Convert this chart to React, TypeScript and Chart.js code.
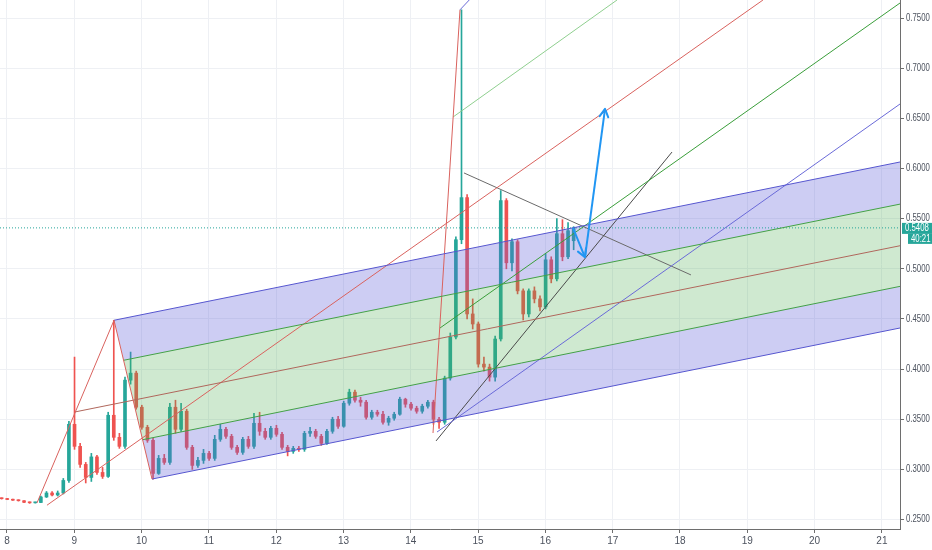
import React, { useEffect, useRef } from 'react';
import { Chart, registerables } from 'chart.js';

Chart.register(...registerables);

// visible window: days of the month on x, price on y
const dayMin = 7.896;
const dayMax = 21.269;
const priceMin = 0.2406;
const priceMax = 0.768;

// 2h candles
const firstCandleDay = 7.92;
const candleStepDays = 1 / 12;

const opens = [
  0.2712, 0.2708, 0.27, 0.2693, 0.2688, 0.2672, 0.2667, 0.267, 0.2725, 0.2765,
  0.2745, 0.2765, 0.289, 0.345, 0.323, 0.305, 0.292, 0.3125, 0.297, 0.293,
  0.354, 0.332, 0.323, 0.389, 0.396, 0.362, 0.342, 0.329, 0.296, 0.311,
  0.307, 0.362, 0.34, 0.358, 0.322, 0.304, 0.309, 0.316, 0.311, 0.33,
  0.34, 0.333, 0.322, 0.317, 0.33, 0.323, 0.346, 0.338, 0.332, 0.341,
  0.335, 0.322, 0.318, 0.321, 0.32, 0.336, 0.338, 0.333, 0.326, 0.338,
  0.35, 0.343, 0.366, 0.377, 0.369, 0.367, 0.352, 0.357, 0.355, 0.347,
  0.351, 0.355, 0.37, 0.365, 0.361, 0.358, 0.363, 0.367, 0.35, 0.347,
  0.391, 0.432, 0.529, 0.571, 0.455, 0.445, 0.405, 0.402, 0.392, 0.43,
  0.568, 0.506, 0.527, 0.478, 0.455, 0.478, 0.47, 0.462, 0.509, 0.49,
  0.535, 0.512, 0.528,
];
const highs = [
  0.2716, 0.2712, 0.2704, 0.2697, 0.269, 0.2676, 0.2674, 0.2735, 0.278, 0.278,
  0.2785, 0.291, 0.348, 0.412, 0.326, 0.307, 0.316, 0.314, 0.302, 0.357,
  0.4487, 0.336, 0.392, 0.417, 0.398, 0.364, 0.344, 0.331, 0.314, 0.315,
  0.366, 0.369, 0.366, 0.36, 0.324, 0.312, 0.32, 0.318, 0.334, 0.345,
  0.342, 0.335, 0.324, 0.332, 0.333, 0.356, 0.357, 0.341, 0.343, 0.344,
  0.337, 0.324, 0.323, 0.323, 0.338, 0.342, 0.34, 0.335, 0.34, 0.352,
  0.353, 0.368, 0.38, 0.379, 0.372, 0.369, 0.359, 0.359, 0.358, 0.353,
  0.357, 0.372, 0.371, 0.367, 0.363, 0.365, 0.369, 0.369, 0.352, 0.393,
  0.436, 0.532, 0.7582, 0.574, 0.47, 0.447, 0.412, 0.405, 0.433, 0.578,
  0.57, 0.53, 0.529, 0.48, 0.48, 0.482, 0.473, 0.515, 0.512, 0.55,
  0.549, 0.546, 0.542,
];
const lows = [
  0.2704, 0.2698, 0.269, 0.2684, 0.2668, 0.2662, 0.2664, 0.2668, 0.272, 0.2735,
  0.2735, 0.2755, 0.287, 0.32, 0.302, 0.2865, 0.288, 0.295, 0.291, 0.292,
  0.329, 0.321, 0.321, 0.385, 0.36, 0.34, 0.327, 0.2904, 0.295, 0.305,
  0.305, 0.336, 0.338, 0.32, 0.3, 0.302, 0.306, 0.309, 0.309, 0.328,
  0.331, 0.32, 0.315, 0.315, 0.321, 0.321, 0.334, 0.33, 0.33, 0.333,
  0.32, 0.3135, 0.316, 0.318, 0.318, 0.333, 0.331, 0.324, 0.325, 0.336,
  0.341, 0.342, 0.364, 0.367, 0.363, 0.35, 0.35, 0.353, 0.345, 0.344,
  0.349, 0.354, 0.362, 0.359, 0.356, 0.356, 0.361, 0.345, 0.341, 0.345,
  0.389, 0.43, 0.525, 0.45, 0.44, 0.402, 0.398, 0.388, 0.388, 0.428,
  0.5, 0.498, 0.475, 0.449, 0.452, 0.466, 0.458, 0.46, 0.486, 0.488,
  0.508, 0.51, 0.519,
];
const closes = [
  0.2708, 0.27, 0.2693, 0.2688, 0.2672, 0.2667, 0.267, 0.2725, 0.2765, 0.2745,
  0.2765, 0.289, 0.345, 0.323, 0.305, 0.292, 0.3125, 0.297, 0.293, 0.354,
  0.332, 0.323, 0.389, 0.396, 0.362, 0.342, 0.329, 0.296, 0.311, 0.307,
  0.362, 0.34, 0.358, 0.322, 0.304, 0.309, 0.316, 0.311, 0.33, 0.34,
  0.333, 0.322, 0.317, 0.33, 0.323, 0.346, 0.338, 0.332, 0.341, 0.335,
  0.322, 0.318, 0.321, 0.32, 0.336, 0.338, 0.333, 0.326, 0.338, 0.35,
  0.343, 0.366, 0.377, 0.369, 0.367, 0.352, 0.357, 0.355, 0.347, 0.351,
  0.355, 0.37, 0.365, 0.361, 0.358, 0.363, 0.367, 0.35, 0.347, 0.391,
  0.432, 0.529, 0.571, 0.455, 0.445, 0.405, 0.402, 0.392, 0.43, 0.568,
  0.506, 0.527, 0.478, 0.455, 0.478, 0.47, 0.462, 0.509, 0.49, 0.535,
  0.512, 0.538, 0.5408,
];

const lastPrice = 0.5408;
const lastPriceText = '0.5408';
const countdownText = '40:21';

// drawings, as [day, price] points
const forkHandle = [[8.446, 0.2666], [9.59, 0.4487]];
const forkBase = [[9.59, 0.4487], [10.155, 0.2904]];
const forkMedian = [[9.01, 0.3573], [21.269, 0.523]];
const forkUpper = [[9.59, 0.4487], [21.269, 0.6065]];
const forkUpperHalf = [[9.733, 0.4088], [21.269, 0.5645]];
const forkLowerHalf = [[10.015, 0.3296], [21.269, 0.4825]];
const forkLower = [[10.155, 0.2904], [21.269, 0.441]];
const upperBand = [[9.59, 0.4487], [9.733, 0.4088], [21.269, 0.5645], [21.269, 0.6065]];
const middleBand = [[9.733, 0.4088], [10.015, 0.3296], [21.269, 0.4825], [21.269, 0.5645]];
const lowerBand = [[10.015, 0.3296], [10.155, 0.2904], [21.269, 0.441], [21.269, 0.4825]];

const longRedLine = [[8.594, 0.2643], [19.233, 0.768]];
const fork2Leg = [[14.33, 0.3363], [14.731, 0.7582]];
const fork2Upper = [[14.731, 0.7582], [14.98, 0.776]];
const fork2Half = [[14.627, 0.6513], [17.064, 0.768]];
const greenTrend = [[14.434, 0.441], [21.269, 0.765]];
const purpleTrend = [[14.39, 0.3373], [21.269, 0.6643]];
const greyTrend = [[14.375, 0.3284], [17.881, 0.6164]];
const triangleTop = [[14.79, 0.5956], [18.163, 0.4939]];
const arrowDown = [[16.41, 0.5407], [16.588, 0.5115]];
const arrowUp = [[16.588, 0.5115], [16.886, 0.6594]];
const lastPriceLine = [[dayMin, lastPrice], [dayMax, lastPrice]];

const UP = '#26a69a';
const DOWN = '#ef5350';
const FONT = "'Liberation Sans', 'DejaVu Sans', sans-serif";
const TEXT = '#4c525e';
const SQUEEZE = 0.78; // narrow axis lettering

const toPts = (pts: number[][]) => pts.map(([x, y]) => ({ x, y }));

const line = (pts: number[][], color: string, width = 1, extra: any = {}) => ({
  type: 'line' as const,
  data: toPts(pts),
  borderColor: color,
  borderWidth: width,
  pointRadius: 0,
  fill: false,
  tension: 0,
  order: 2,
  ...extra,
});

const band = (pts: number[][], color: string) => ({
  type: 'line' as const,
  data: toPts(pts),
  borderColor: 'rgba(0,0,0,0)',
  borderWidth: 0,
  backgroundColor: color,
  fill: 'shape',
  pointRadius: 0,
  tension: 0,
  order: 5,
});

const narrowText = (ctx: CanvasRenderingContext2D, text: string, x: number, y: number) => {
  ctx.save();
  ctx.translate(x, y);
  ctx.scale(SQUEEZE, 1);
  ctx.fillText(text, 0, 0);
  ctx.restore();
};

const arrowHeads = {
  id: 'arrowHeads',
  afterDatasetsDraw(chart: any) {
    const ctx = chart.ctx;
    chart.data.datasets.forEach((ds: any, i: number) => {
      if (!ds.arrowHead) return;
      const pts = chart.getDatasetMeta(i).data;
      const a = pts[pts.length - 2];
      const b = pts[pts.length - 1];
      const ang = Math.atan2(b.y - a.y, b.x - a.x);
      ctx.save();
      ctx.strokeStyle = ds.borderColor;
      ctx.lineWidth = ds.borderWidth;
      ctx.lineCap = 'round';
      ctx.beginPath();
      for (const s of [-1, 1]) {
        ctx.moveTo(b.x, b.y);
        ctx.lineTo(b.x - 9 * Math.cos(ang + s * 0.5), b.y - 9 * Math.sin(ang + s * 0.5));
      }
      ctx.stroke();
      ctx.restore();
    });
  },
};

// price-axis labels plus the last-price tag
const priceAxisText = {
  id: 'priceAxisText',
  afterDraw(chart: any) {
    const { ctx, chartArea, scales } = chart;
    const yScale = scales.y;
    const left = chartArea.right + 6;
    ctx.save();
    ctx.font = `10px ${FONT}`;
    ctx.textBaseline = 'middle';
    ctx.textAlign = 'left';
    ctx.fillStyle = TEXT;
    yScale.ticks.forEach((t: any) => {
      narrowText(ctx, Number(t.value).toFixed(4), left, yScale.getPixelForValue(t.value));
    });

    const y = yScale.getPixelForValue(lastPrice);
    ctx.fillStyle = UP;
    ctx.fillRect(chartArea.right + 2, y - 5, chart.width - chartArea.right - 2, 11);
    ctx.fillRect(chartArea.right + 8, y + 6, chart.width - chartArea.right - 8, 10);
    ctx.fillStyle = '#ffffff';
    narrowText(ctx, lastPriceText, chartArea.right + 5, y + 0.5);
    narrowText(ctx, countdownText, chartArea.right + 11, y + 11);
    ctx.restore();
  },
};

const App: React.FC = () => {
  const canvasRef = useRef<HTMLCanvasElement>(null);
  const chartInstance = useRef<Chart | null>(null);

  useEffect(() => {
    if (!canvasRef.current) return;
    if (chartInstance.current) chartInstance.current.destroy();

    const days = opens.map((_, i) => firstCandleDay + i * candleStepDays);
    const colors = opens.map((o, i) => (closes[i] >= o ? UP : DOWN));

    const gridColor = '#eef0f4';
    const axisColor = '#6e6e6e';

    chartInstance.current = new Chart(canvasRef.current, {
      type: 'bar',
      data: {
        datasets: [
          {
            type: 'bar',
            data: days.map((x, i) => ({ x, y: [lows[i], highs[i]] })),
            backgroundColor: colors,
            barThickness: 1,
            grouped: false,
            order: 20,
          },
          {
            type: 'bar',
            data: days.map((x, i) => ({ x, y: [opens[i], closes[i]] })),
            backgroundColor: colors,
            barThickness: 3,
            minBarLength: 1,
            grouped: false,
            order: 19,
          },
          band(upperBand, 'rgba(98, 98, 218, 0.32)'),
          band(middleBand, 'rgba(76, 175, 80, 0.27)'),
          band(lowerBand, 'rgba(98, 98, 218, 0.32)'),
          line(forkHandle, '#d9625e'),
          line(forkBase, '#d9625e'),
          line(forkMedian, '#b0675c'),
          line(forkUpper, '#5656cf'),
          line(forkUpperHalf, '#43a047'),
          line(forkLowerHalf, '#43a047'),
          line(forkLower, '#5656cf'),
          line(longRedLine, '#d9625e'),
          line(fork2Leg, '#d9625e'),
          line(fork2Upper, '#6a6ad8'),
          line(fork2Half, '#8fcf8f'),
          line(greenTrend, '#3a9e3a'),
          line(purpleTrend, '#6a6ad8'),
          line(greyTrend, '#4a4a4a'),
          line(triangleTop, '#6a6a6a'),
          line(lastPriceLine, UP, 1, { borderDash: [1, 2] }),
          line(arrowDown, '#2196f3', 2, { arrowHead: true, order: 1 }),
          line(arrowUp, '#2196f3', 2, { arrowHead: true, order: 1 }),
        ] as any,
      },
      options: {
        animation: false,
        responsive: true,
        maintainAspectRatio: false,
        events: [],
        layout: { padding: 0, autoPadding: false },
        plugins: {
          legend: { display: false },
          tooltip: { enabled: false },
        },
        scales: {
          x: {
            type: 'linear',
            min: dayMin,
            max: dayMax,
            offset: false,
            grid: { color: gridColor, tickColor: axisColor, tickLength: 4, offset: false },
            border: { display: true, color: axisColor, width: 1 },
            ticks: {
              stepSize: 1,
              includeBounds: false,
              autoSkip: false,
              maxRotation: 0,
              padding: 2,
              color: TEXT,
              font: { family: FONT, size: 10 },
              callback: (v: any) => String(v),
            },
            afterFit: (s: any) => {
              s.height = 21;
            },
          },
          y: {
            type: 'linear',
            position: 'right',
            min: priceMin,
            max: priceMax,
            grid: { color: gridColor, tickColor: axisColor, tickLength: 4 },
            border: { display: true, color: axisColor, width: 1 },
            ticks: {
              stepSize: 0.05,
              includeBounds: false,
              display: false,
            },
            afterFit: (s: any) => {
              s.width = 32;
            },
          },
        },
      } as any,
      plugins: [arrowHeads, priceAxisText],
    });

    return () => {
      if (chartInstance.current) {
        chartInstance.current.destroy();
        chartInstance.current = null;
      }
    };
  }, []);

  return (
    <div style={{ position: 'fixed', left: 0, top: 0, width: 932, height: 550, background: '#ffffff' }}>
      <canvas ref={canvasRef}></canvas>
    </div>
  );
};

export default App;
